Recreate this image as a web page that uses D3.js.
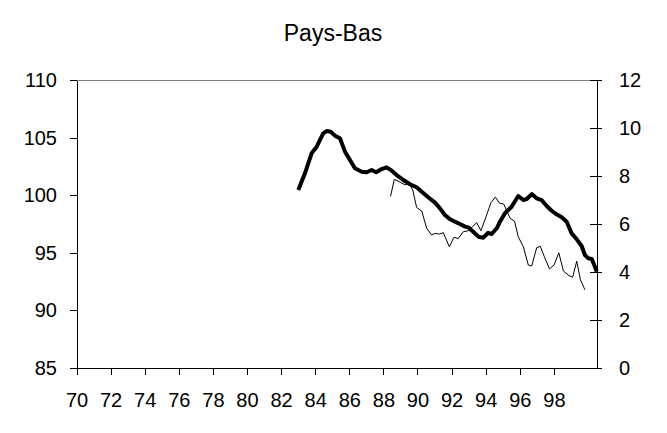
<!DOCTYPE html>
<html>
<head>
<meta charset="utf-8">
<script src="https://cdn.jsdelivr.net/npm/d3@7"></script>
<style>
  html, body { margin: 0; padding: 0; background: #fff; }
  svg { display: block; font-family: "Liberation Sans", Arial, sans-serif; }
</style>
</head>
<body>
<svg id="chart" width="667" height="433"></svg>
<script>
// ---- Data ----
const title = "Pays-Bas";
const xTickLabels = ["70","72","74","76","78","80","82","84","86","88","90","92","94","96","98"];
const leftTicks = [85, 90, 95, 100, 105, 110];
const rightTicks = [0, 2, 4, 6, 8, 10, 12];

// Thick series (left axis, index)
const thickYears = [83.01,83.40,83.79,84.09,84.47,84.67,84.91,85.16,85.45,85.75,86.04,86.33,86.73,87.02,87.31,87.57,87.90,88.19,88.49,88.78,89.17,89.56,89.95,90.25,90.63,91.03,91.32,91.61,91.91,92.20,92.49,92.79,92.98,93.27,93.57,93.86,94.15,94.35,94.65,94.84,95.13,95.52,95.91,96.21,96.41,96.70,96.99,97.28,97.58,97.87,98.16,98.46,98.75,99.04,99.34,99.63,99.82,100.02,100.22,100.42,100.51];
const thickValues = [100.45,101.90,103.64,104.21,105.37,105.57,105.51,105.17,104.94,103.78,103.06,102.34,102.04,101.99,102.19,101.99,102.27,102.42,102.13,101.75,101.32,100.95,100.69,100.30,99.82,99.35,98.86,98.28,97.91,97.70,97.50,97.27,97.21,96.83,96.40,96.31,96.74,96.63,97.13,97.70,98.43,99.00,99.93,99.58,99.67,100.10,99.73,99.58,99.06,98.65,98.34,98.08,97.70,96.69,96.17,95.59,94.81,94.52,94.46,93.74,93.36];

// Thin series (right axis, %)
const thinYears = [88.42,88.64,88.97,89.27,89.50,89.72,89.95,90.25,90.54,90.83,91.03,91.28,91.51,91.87,92.14,92.39,92.69,92.98,93.24,93.47,93.72,94.02,94.31,94.57,94.80,95.07,95.43,95.69,95.91,96.21,96.50,96.70,96.99,97.20,97.44,97.74,98.01,98.29,98.56,98.89,99.10,99.34,99.56,99.82];
const thinValues = [7.15,7.86,7.75,7.63,7.69,7.42,6.69,6.54,5.82,5.54,5.61,5.58,5.64,5.05,5.45,5.39,5.68,5.72,5.89,6.06,5.72,6.30,6.89,7.12,6.88,6.82,6.24,6.12,5.47,5.05,4.29,4.25,5.01,5.07,4.64,4.13,4.29,4.80,4.04,3.85,3.78,4.45,3.67,3.26];

// ---- Layout ----
const L = 77, R = 597, T = 80, B = 368;
const svg = d3.select("#chart");

const x = d3.scaleLinear().domain([70, 100.5]).range([76.5, 596.5]);
const yL = d3.scaleLinear().domain([85, 110]).range([B, T]);
const yR = d3.scaleLinear().domain([0, 12]).range([B, T]);

// Title
svg.append("text").attr("x", 333).attr("y", 41)
  .attr("text-anchor", "middle").attr("font-size", 23).attr("fill", "#000")
  .text(title);

// Top border (grey)
svg.append("line").attr("x1", L).attr("x2", R).attr("y1", T).attr("y2", T)
  .attr("stroke", "#808080").attr("stroke-width", 1).attr("shape-rendering", "crispEdges");

// Left axis
const gL = svg.append("g").attr("transform", `translate(${L},0)`)
  .call(d3.axisLeft(yL).tickValues(leftTicks).tickSize(7).tickSizeOuter(0).tickPadding(13).tickFormat(d3.format("d")));

// Right axis (ticks crossing the axis)
const gR = svg.append("g").attr("transform", `translate(${R},0)`)
  .call(d3.axisRight(yR).tickValues(rightTicks).tickSize(5).tickSizeOuter(0).tickPadding(17).tickFormat(d3.format("d")));
gR.selectAll(".tick line").attr("x1", -7);

// Bottom axis
const xTickVals = xTickLabels.map(d => +d);
const gB = svg.append("g").attr("transform", `translate(0,${B})`)
  .call(d3.axisBottom(x).tickValues(xTickVals).tickSize(7).tickSizeOuter(0).tickPadding(18)
    .tickFormat((d, i) => xTickLabels[i]));
gB.select(".domain").attr("d", `M${L},0H${R}`);

[gL, gR, gB].forEach(g => {
  g.selectAll("text").attr("font-size", 20).attr("fill", "#000")
    .attr("font-family", "'Liberation Sans', Arial, sans-serif");
  g.selectAll("line").attr("stroke", "#000").attr("shape-rendering", "crispEdges");
  g.select(".domain").attr("stroke", "#000").attr("shape-rendering", "crispEdges");
});

// Lines
const thinLine = d3.line().x(d => x(d[0])).y(d => yR(d[1]));
const thickLine = d3.line().x(d => x(d[0])).y(d => yL(d[1]));

svg.append("path")
  .datum(thinYears.map((yr, i) => [yr, thinValues[i]]))
  .attr("d", thinLine).attr("fill", "none").attr("stroke", "#000").attr("stroke-width", 1);

svg.append("path")
  .datum(thickYears.map((yr, i) => [yr, thickValues[i]]))
  .attr("d", thickLine).attr("fill", "none").attr("stroke", "#000")
  .attr("stroke-width", 4).attr("stroke-linejoin", "round");
</script>
</body>
</html>
